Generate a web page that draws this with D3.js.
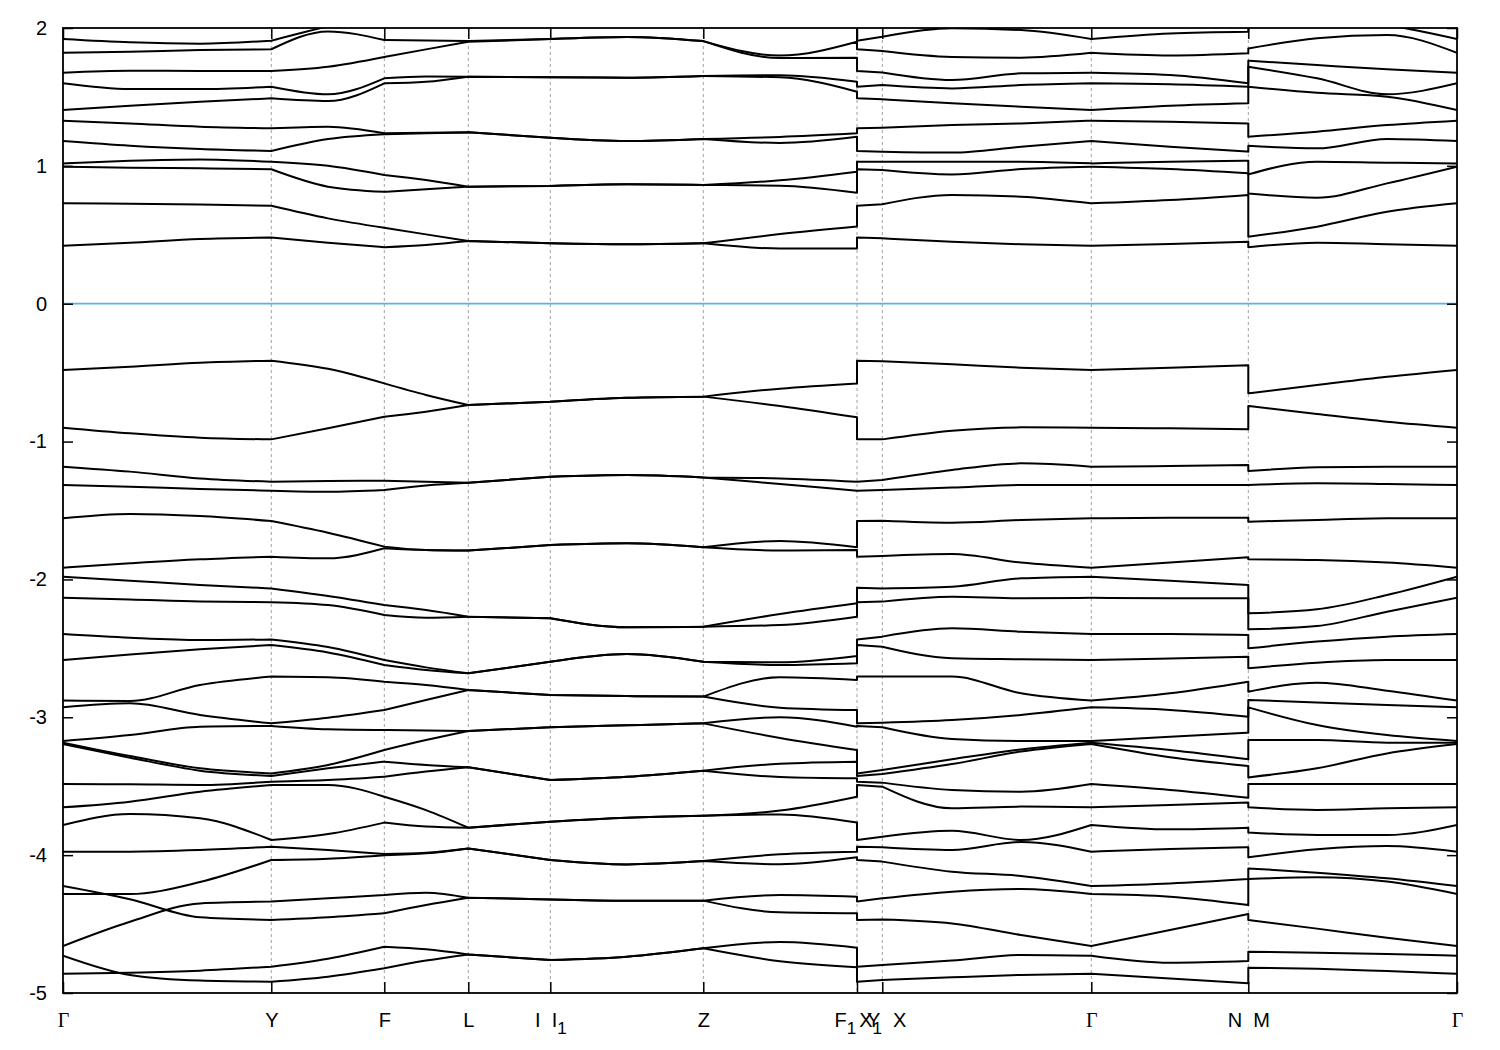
<!DOCTYPE html>
<html>
<head>
<meta charset="utf-8">
<script src="https://cdn.jsdelivr.net/npm/d3@7"></script>
<style>
html, body { margin: 0; padding: 0; background: #ffffff; }
svg { display: block; }
text { font-family: "Liberation Sans", Arial, Helvetica, sans-serif; font-size: 20px; fill: #000; }
</style>
</head>
<body>
<svg id="chart" width="1500" height="1050"></svg>
<script>
// ---------------- DATA ----------------
// high-symmetry points along the k-path (cumulative k distance)
const tickLabels = ["Γ", "Y", "F", "L", "I  I_1", "Z", "F_1  Y", "X_1  X", "Γ", "N  M", "Γ"];
const kTicks = [0, 0.2083, 0.3213, 0.4053, 0.4873, 0.6403, 0.7940, 0.8193, 1.0283, 1.1853, 1.3940];
// k positions at which the band energies were read (two entries at each path break)
const kPoints = [0, 0.067, 0.137, 0.2083, 0.265, 0.3213, 0.363, 0.4053, 0.4873, 0.564, 0.6403, 0.717, 0.794,
                 0.794, 0.8193, 0.889, 0.958, 1.0283, 1.107, 1.1853,
                 1.1853, 1.254, 1.324, 1.394];
const energyTicks = [-5, -4, -3, -2, -1, 0, 1, 2];

// conduction bands (eV), one value per kPoint
const c1  = [0.421,0.443,0.469,0.480,0.443,0.410,0.426,0.455,0.438,0.431,0.438,0.400,0.400,0.480,0.474,0.450,0.431,0.421,0.433,0.450,0.409,0.443,0.431,0.421];
const c2  = [0.728,0.725,0.720,0.710,0.619,0.551,0.503,0.455,0.438,0.431,0.438,0.505,0.560,0.710,0.721,0.789,0.776,0.728,0.752,0.789,0.486,0.559,0.667,0.728];
const c3  = [0.994,0.987,0.982,0.975,0.849,0.812,0.830,0.849,0.854,0.866,0.861,0.856,0.805,0.975,0.970,0.938,0.977,0.994,0.977,0.946,0.800,0.769,0.873,0.994];
const c4  = [1.018,1.037,1.047,1.030,1.001,0.934,0.897,0.849,0.854,0.866,0.861,0.895,0.958,1.030,1.030,1.030,1.030,1.018,1.030,1.037,0.938,1.030,1.023,1.018];
const c5  = [1.180,1.146,1.122,1.108,1.195,1.230,1.236,1.243,1.204,1.180,1.195,1.166,1.211,1.108,1.103,1.096,1.139,1.180,1.139,1.103,1.145,1.127,1.195,1.180];
const c6  = [1.328,1.308,1.284,1.272,1.284,1.236,1.240,1.243,1.204,1.180,1.195,1.210,1.236,1.272,1.277,1.296,1.308,1.328,1.320,1.308,1.211,1.248,1.296,1.328];
const c7  = [1.405,1.436,1.465,1.490,1.470,1.599,1.610,1.647,1.642,1.640,1.652,1.642,1.538,1.490,1.483,1.454,1.429,1.405,1.436,1.454,1.574,1.530,1.502,1.405];
const c8  = [1.599,1.557,1.557,1.574,1.519,1.635,1.649,1.647,1.642,1.640,1.652,1.658,1.610,1.574,1.586,1.562,1.586,1.599,1.592,1.574,1.719,1.635,1.519,1.599];
const c9  = [1.676,1.690,1.688,1.688,1.719,1.790,1.845,1.900,1.920,1.935,1.905,1.782,1.785,1.688,1.678,1.623,1.671,1.676,1.659,1.599,1.763,1.731,1.700,1.676];
const c10 = [1.820,1.828,1.840,1.846,1.975,1.913,1.910,1.905,1.920,1.935,1.905,1.800,1.900,1.846,1.833,1.790,1.785,1.820,1.800,1.816,1.852,1.925,1.949,1.820];
const c11 = [1.920,1.896,1.886,1.908,2.010,2.080,2.080,2.080,2.080,2.080,2.080,2.080,2.070,1.908,1.937,1.998,1.985,1.920,1.961,1.973,2.070,2.060,2.020,1.920];

// valence bands (eV)
const v1  = [-0.480,-0.457,-0.428,-0.413,-0.472,-0.578,-0.662,-0.735,-0.711,-0.682,-0.674,-0.616,-0.578,-0.413,-0.418,-0.440,-0.464,-0.480,-0.464,-0.447,-0.650,-0.590,-0.530,-0.480];
const v2  = [-0.899,-0.940,-0.972,-0.984,-0.904,-0.820,-0.783,-0.735,-0.711,-0.682,-0.674,-0.742,-0.824,-0.984,-0.984,-0.921,-0.897,-0.899,-0.904,-0.911,-0.742,-0.800,-0.856,-0.899];
const v3  = [-1.182,-1.218,-1.267,-1.291,-1.286,-1.284,-1.291,-1.298,-1.255,-1.243,-1.260,-1.267,-1.291,-1.291,-1.279,-1.206,-1.158,-1.182,-1.177,-1.170,-1.214,-1.187,-1.182,-1.182];
const v4  = [-1.315,-1.327,-1.344,-1.356,-1.364,-1.351,-1.318,-1.298,-1.255,-1.243,-1.260,-1.308,-1.356,-1.356,-1.351,-1.334,-1.315,-1.315,-1.315,-1.315,-1.315,-1.303,-1.308,-1.315];
const v5  = [-1.557,-1.525,-1.540,-1.576,-1.661,-1.762,-1.787,-1.791,-1.750,-1.738,-1.767,-1.721,-1.767,-1.576,-1.574,-1.588,-1.569,-1.557,-1.552,-1.552,-1.581,-1.569,-1.557,-1.557];
const v6  = [-1.915,-1.883,-1.854,-1.835,-1.847,-1.774,-1.787,-1.791,-1.750,-1.738,-1.767,-1.791,-1.787,-1.835,-1.830,-1.816,-1.878,-1.915,-1.878,-1.840,-1.854,-1.859,-1.878,-1.915];
const v7  = [-1.980,-2.009,-2.040,-2.065,-2.120,-2.186,-2.222,-2.270,-2.282,-2.347,-2.343,-2.251,-2.173,-2.060,-2.065,-2.053,-1.992,-1.980,-2.009,-2.040,-2.246,-2.217,-2.113,-1.980];
const v8  = [-2.133,-2.145,-2.161,-2.165,-2.186,-2.258,-2.278,-2.270,-2.282,-2.347,-2.343,-2.331,-2.270,-2.165,-2.161,-2.125,-2.137,-2.133,-2.137,-2.137,-2.362,-2.338,-2.234,-2.133];
const v9  = [-2.396,-2.423,-2.440,-2.435,-2.490,-2.585,-2.638,-2.681,-2.597,-2.541,-2.597,-2.601,-2.555,-2.435,-2.415,-2.355,-2.379,-2.396,-2.396,-2.403,-2.500,-2.451,-2.415,-2.396];
const v10 = [-2.585,-2.544,-2.507,-2.476,-2.530,-2.621,-2.657,-2.681,-2.597,-2.541,-2.597,-2.621,-2.608,-2.476,-2.488,-2.572,-2.579,-2.585,-2.573,-2.560,-2.645,-2.604,-2.585,-2.585];
const v11 = [-2.879,-2.882,-2.766,-2.705,-2.710,-2.742,-2.766,-2.802,-2.839,-2.846,-2.850,-2.710,-2.730,-2.705,-2.705,-2.705,-2.826,-2.879,-2.826,-2.742,-2.814,-2.749,-2.807,-2.879];
const v12 = [-2.928,-2.899,-2.983,-3.044,-3.003,-2.947,-2.875,-2.802,-2.839,-2.846,-2.850,-2.930,-2.947,-3.044,-3.039,-3.020,-2.983,-2.928,-2.947,-2.996,-2.875,-2.892,-2.911,-2.928];
const v13 = [-3.172,-3.129,-3.068,-3.063,-3.087,-3.092,-3.095,-3.099,-3.073,-3.058,-3.044,-3.000,-3.068,-3.063,-3.073,-3.158,-3.172,-3.172,-3.141,-3.112,-2.928,-3.056,-3.129,-3.172];
const v14 = [-3.184,-3.281,-3.370,-3.407,-3.346,-3.237,-3.165,-3.099,-3.073,-3.058,-3.044,-3.150,-3.237,-3.407,-3.382,-3.305,-3.233,-3.184,-3.237,-3.305,-3.165,-3.165,-3.184,-3.184];
const v15 = [-3.194,-3.293,-3.387,-3.426,-3.370,-3.322,-3.346,-3.363,-3.455,-3.431,-3.387,-3.337,-3.322,-3.426,-3.411,-3.339,-3.249,-3.194,-3.290,-3.353,-3.436,-3.370,-3.262,-3.194];
const v16 = [-3.484,-3.486,-3.491,-3.467,-3.455,-3.431,-3.394,-3.363,-3.455,-3.431,-3.387,-3.433,-3.443,-3.467,-3.474,-3.527,-3.540,-3.484,-3.527,-3.583,-3.484,-3.484,-3.484,-3.484];
const v17 = [-3.653,-3.612,-3.540,-3.491,-3.491,-3.576,-3.673,-3.801,-3.757,-3.728,-3.714,-3.677,-3.576,-3.491,-3.503,-3.660,-3.648,-3.653,-3.636,-3.619,-3.653,-3.672,-3.660,-3.653];
const v18 = [-3.781,-3.702,-3.733,-3.890,-3.847,-3.764,-3.793,-3.801,-3.757,-3.728,-3.714,-3.705,-3.764,-3.890,-3.866,-3.823,-3.890,-3.781,-3.813,-3.801,-3.835,-3.854,-3.854,-3.781];
const v19 = [-3.975,-3.975,-3.963,-3.939,-3.963,-3.992,-3.982,-3.951,-4.035,-4.067,-4.043,-3.994,-3.975,-3.939,-3.943,-3.963,-3.905,-3.975,-3.956,-3.943,-4.016,-3.958,-3.934,-3.975];
const v20 = [-4.282,-4.282,-4.195,-4.035,-4.026,-4.000,-3.987,-3.951,-4.035,-4.067,-4.043,-4.066,-4.016,-4.035,-4.047,-4.120,-4.151,-4.224,-4.205,-4.173,-4.096,-4.127,-4.168,-4.224];
const v21 = [-4.659,-4.483,-4.350,-4.337,-4.313,-4.289,-4.272,-4.309,-4.321,-4.330,-4.330,-4.289,-4.301,-4.337,-4.313,-4.265,-4.246,-4.282,-4.301,-4.362,-4.173,-4.161,-4.192,-4.282];
const v22 = [-4.224,-4.320,-4.451,-4.470,-4.451,-4.422,-4.362,-4.309,-4.321,-4.330,-4.330,-4.415,-4.422,-4.470,-4.466,-4.495,-4.579,-4.659,-4.543,-4.427,-4.470,-4.533,-4.599,-4.659];
const v23 = [-4.860,-4.853,-4.838,-4.809,-4.751,-4.664,-4.683,-4.720,-4.761,-4.737,-4.676,-4.630,-4.671,-4.809,-4.797,-4.765,-4.724,-4.729,-4.780,-4.768,-4.700,-4.708,-4.717,-4.729];
const v24 = [-4.729,-4.869,-4.910,-4.918,-4.882,-4.821,-4.765,-4.720,-4.761,-4.737,-4.676,-4.770,-4.814,-4.918,-4.906,-4.886,-4.869,-4.860,-4.894,-4.930,-4.816,-4.824,-4.841,-4.860];

const conductionBands = [c1, c2, c3, c4, c5, c6, c7, c8, c9, c10, c11];
const valenceBands = [v1, v2, v3, v4, v5, v6, v7, v8, v9, v10, v11, v12, v13, v14, v15, v16, v17, v18, v19, v20, v21, v22, v23, v24];

// smooth pieces between high-symmetry points (index ranges into kPoints)
const pieces = [[0,3],[3,5],[5,7],[7,8],[8,10],[10,12],[13,14],[14,17],[17,19],[20,23]];

// ---------------- DRAWING ----------------
const plot = { left: 63, right: 1457, top: 28, bottom: 993 };
const svg = d3.select("#chart");

const x = d3.scaleLinear().domain([0, kTicks[kTicks.length - 1]]).range([plot.left, plot.right]);
const y = d3.scaleLinear().domain([-5, 2]).range([plot.bottom, plot.top]);

svg.append("rect").attr("width", 1500).attr("height", 1050).attr("fill", "#fff");

svg.append("defs").append("clipPath").attr("id", "plotclip")
  .append("rect")
  .attr("x", plot.left).attr("y", plot.top)
  .attr("width", plot.right - plot.left).attr("height", plot.bottom - plot.top);

// dashed separators at interior high-symmetry points
svg.append("g").selectAll("line")
  .data(kTicks.slice(1, -1))
  .join("line")
  .attr("x1", d => x(d)).attr("x2", d => x(d))
  .attr("y1", y(2)).attr("y2", y(-5))
  .attr("stroke", "#a0a0a0").attr("stroke-width", 1)
  .attr("stroke-dasharray", "3,3");

// Fermi level
svg.append("line")
  .attr("x1", x(0)).attr("x2", x(kTicks[kTicks.length - 1]))
  .attr("y1", y(0)).attr("y2", y(0))
  .attr("stroke", "#56b4e9").attr("stroke-width", 1.8);

// bands
const line = d3.line().x(d => x(d[0])).y(d => y(d[1])).curve(d3.curveMonotoneX);
function bandPath(vals) {
  let p = "";
  pieces.forEach((pc, i) => {
    const pts = [];
    for (let j = pc[0]; j <= pc[1]; j++) pts.push([kPoints[j], vals[j]]);
    let s = line(pts);
    if (i > 0) s = "L" + s.slice(1);
    p += s;
  });
  return p;
}
svg.append("g").attr("clip-path", "url(#plotclip)")
  .selectAll("path")
  .data(valenceBands.concat(conductionBands))
  .join("path")
  .attr("d", d => bandPath(d))
  .attr("fill", "none")
  .attr("stroke", "#000")
  .attr("stroke-width", 2)
  .attr("stroke-linejoin", "round");

// axes
function styleAxis(g) {
  g.attr("font-size", null).attr("font-family", null);
  g.select(".domain").remove();
  g.selectAll(".tick line").attr("stroke", "#000").attr("stroke-width", 1.5);
}

const xBottom = d3.axisBottom(x).tickValues(kTicks).tickSizeInner(-11).tickSizeOuter(0).tickFormat(() => "");
const gB = svg.append("g").attr("transform", `translate(0,${plot.bottom})`).call(xBottom).call(styleAxis);
gB.selectAll(".tick text").each(function(d, i) {
  const t = d3.select(this);
  t.text(null).attr("y", 34).attr("dy", null)
   .attr("text-anchor", "middle")
   .attr("xml:space", "preserve")
   .style("white-space", "pre");
  const label = tickLabels[i];
  if (label === "Γ") t.style("font-family", "'Liberation Serif', 'DejaVu Serif', serif");
  const parts = label.split(/(_\d)/).filter(s => s.length);
  let lowered = false;
  parts.forEach(part => {
    if (part.startsWith("_")) {
      t.append("tspan").attr("dy", 7).style("font-size", "17px").text(part.slice(1));
      lowered = true;
    } else {
      const ts = t.append("tspan").text(part);
      if (lowered) { ts.attr("dy", -7); lowered = false; }
    }
  });
});

const xTop = d3.axisTop(x).tickValues(kTicks).tickSizeInner(-11).tickSizeOuter(0).tickFormat(() => "");
svg.append("g").attr("transform", `translate(0,${plot.top})`).call(xTop).call(styleAxis);

const yLeft = d3.axisLeft(y).tickValues(energyTicks).tickSizeInner(-10).tickSizeOuter(0)
  .tickPadding(16).tickFormat(d => String(d));
const gL = svg.append("g").attr("transform", `translate(${plot.left},0)`).call(yLeft).call(styleAxis);
gL.selectAll(".tick text").attr("fill", "#000");

const yRight = d3.axisRight(y).tickValues(energyTicks).tickSizeInner(-10).tickSizeOuter(0).tickFormat(() => "");
svg.append("g").attr("transform", `translate(${plot.right},0)`).call(yRight).call(styleAxis);

// frame
svg.append("rect")
  .attr("x", plot.left).attr("y", plot.top)
  .attr("width", plot.right - plot.left).attr("height", plot.bottom - plot.top)
  .attr("fill", "none").attr("stroke", "#000").attr("stroke-width", 1.8);
</script>
</body>
</html>
